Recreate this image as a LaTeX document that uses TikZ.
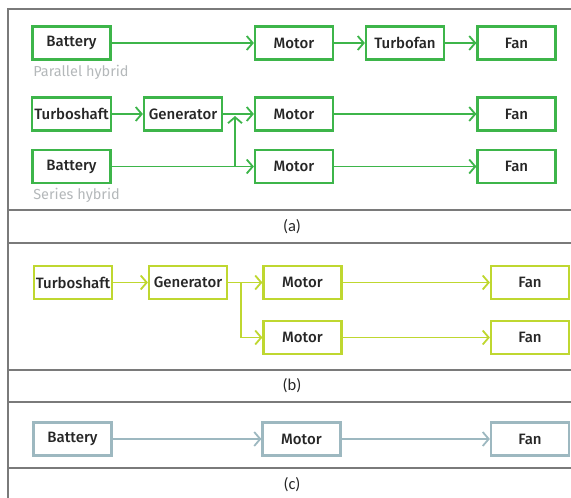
\documentclass[tikz,border=0pt]{standalone}
\usepackage{fontspec}
\setsansfont{Fira Sans}[BoldFont={* Medium}]
\newfontfamily\capfont{Carlito}
\usetikzlibrary{arrows.meta, positioning}
\definecolor{cgreen}{HTML}{3DB54A}
\definecolor{clime}{HTML}{BFD730}
\definecolor{csteel}{HTML}{9DB8C0}
\definecolor{cframe}{HTML}{7A7A7A}
\definecolor{cnote}{HTML}{B4B8BA}
\tikzset{
  every picture/.style={font=\sffamily, line width=2pt},
  box/.style={draw=#1, fill=white, line width=2.2pt, align=center, inner sep=2pt, minimum width=78pt, minimum height=33pt, font=\sffamily\bfseries\fontsize{15}{17}\selectfont, text=black!85},
  box/.default=cgreen,
  arrow/.style={-{Straight Barb[length=6pt, width=14pt, line width=1.8pt]}, draw=#1, line width=1.8pt},
  arrow/.default=cgreen,
  frame/.style={draw=cframe, line width=2pt},
  caption/.style={font=\capfont\fontsize{16.5}{19}\selectfont, text=black!85},
  note/.style={font=\sffamily\fontsize{14.5}{17}\selectfont, text=cnote, anchor=west},
}

\begin{document}
\begin{tikzpicture}[x=1pt, y=-1pt]
  \useasboundingbox (0,0) rectangle (571,498);
  % panel frames
  \draw[frame] (8,498) -- (8,9) -- (571,9);
  \foreach \yy in {210, 243, 370, 402, 468}
    \draw[frame] (8,\yy) -- (571,\yy);

  % (a) parallel hybrid
  \node[box] (bat1) at (71.5,43) {Battery};
  \node[box] (mot1) at (294,43) {Motor};
  \node[box] (tfan) at (405,43) {Turbofan};
  \node[box] (fan1) at (516.5,43) {Fan};
  \node[note] (par) at (29,72) {Parallel hybrid};
  \draw[arrow] (bat1) -- (mot1);
  \draw[arrow] (mot1) -- (tfan);
  \draw[arrow] (tfan) -- (fan1);

  % (a) series hybrid
  \node[box] (tsh1) at (71.5,114) {Turboshaft};
  \node[box] (gen1) at (183,114) {Generator};
  \node[box] (mot2) at (294,114) {Motor};
  \node[box] (fan2) at (516.5,114) {Fan};
  \node[box] (bat2) at (71.5,166.5) {Battery};
  \node[box] (mot3) at (294,166.5) {Motor};
  \node[box] (fan3) at (516.5,166.5) {Fan};
  \node[note] (ser) at (29,195) {Series hybrid};
  \coordinate (jn) at (235,166.5);
  \coordinate (jt) at (235,116);
  \draw[arrow] (tsh1) -- (gen1);
  \draw[arrow] (gen1) -- (mot2);
  \draw[arrow] (mot2) -- (fan2);
  \draw[arrow] (bat2) -- (mot3);
  \draw[arrow] (mot3) -- (fan3);
  \draw[arrow] (jn) -- (jt);
  \node[caption] (capa) at (292,226.5) {(a)};

  % (b) turboelectric
  \node[box=clime] (tsh2) at (73,282.5) {Turboshaft};
  \node[box=clime] (gen2) at (188,282.5) {Generator};
  \node[box=clime] (mot4) at (302.5,282.5) {Motor};
  \node[box=clime] (mot5) at (302.5,337.5) {Motor};
  \node[box=clime] (fan4) at (530,282.5) {Fan};
  \node[box=clime] (fan5) at (530,337.5) {Fan};
  \coordinate (br) at (241,282.5);
  \draw[arrow=clime] (tsh2) -- (gen2);
  \draw[arrow=clime] (gen2) -- (mot4);
  \draw[arrow=clime] (br) |- (mot5);
  \draw[arrow=clime] (mot4) -- (fan4);
  \draw[arrow=clime] (mot5) -- (fan5);
  \node[caption] (capb) at (292,386) {(b)};

  % (c) all electric
  \node[box=csteel] (bat3) at (72.5,439) {Battery};
  \node[box=csteel] (mot6) at (301.5,439) {Motor};
  \node[box=csteel] (fan6) at (530,439) {Fan};
  \draw[arrow=csteel] (bat3) -- (mot6);
  \draw[arrow=csteel] (mot6) -- (fan6);
  \node[caption] (capc) at (292,485) {(c)};
\end{tikzpicture}
\end{document}
